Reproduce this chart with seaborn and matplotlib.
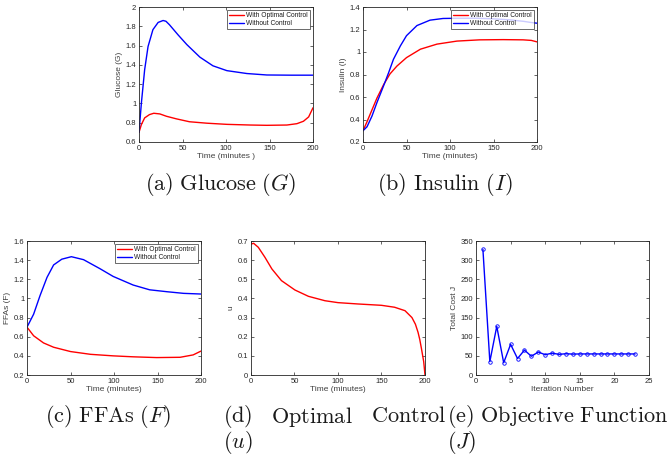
import numpy as np
import pandas as pd
import matplotlib
matplotlib.use("Agg")
import matplotlib.pyplot as plt
from matplotlib.ticker import FuncFormatter
import seaborn as sns

# ---- data ----
# Glucose
g_ctrl_t = [0, 2.7, 6.5, 12, 17, 24, 31.5, 43, 58, 78, 101, 128, 147, 170, 181.5, 189, 195, 200]
g_ctrl = [0.70, 0.78, 0.85, 0.884, 0.898, 0.891, 0.867, 0.84, 0.81, 0.795, 0.783, 0.776, 0.773, 0.776, 0.79, 0.815, 0.86, 0.955]
g_free_t = [0, 2.7, 6.5, 10.4, 16, 22, 27.7, 31, 35, 45, 55, 70, 85, 101, 124, 147, 175, 200]
g_free = [0.70, 1.0, 1.35, 1.59, 1.765, 1.84, 1.86, 1.852, 1.816, 1.71, 1.61, 1.48, 1.39, 1.34, 1.31, 1.295, 1.293, 1.293]

# Insulin
i_ctrl_t = [0, 4.6, 10.3, 16, 23.7, 31, 39, 50, 66, 85, 108, 134, 161, 184, 193.5, 200]
i_ctrl = [0.30, 0.38, 0.485, 0.59, 0.71, 0.805, 0.875, 0.95, 1.025, 1.07, 1.097, 1.108, 1.11, 1.108, 1.103, 1.09]
i_free_t = [0, 4.6, 10.3, 16, 23.7, 29.4, 35, 43, 50, 62, 77, 92, 108, 130, 150, 170, 185, 193.5, 200]
i_free = [0.30, 0.335, 0.43, 0.55, 0.70, 0.815, 0.935, 1.055, 1.145, 1.235, 1.283, 1.298, 1.30, 1.30, 1.295, 1.285, 1.272, 1.262, 1.256]

# FFAs
f_ctrl_t = [0, 7.6, 19, 30.6, 50, 73, 99, 122, 149, 176, 191, 200]
f_ctrl = [0.70, 0.61, 0.535, 0.49, 0.445, 0.416, 0.40, 0.39, 0.382, 0.385, 0.41, 0.45]
f_free_t = [0, 7.6, 15, 23, 30.6, 40, 51, 65, 84, 99, 122, 141, 161, 180, 200]
f_free = [0.70, 0.835, 1.03, 1.22, 1.35, 1.41, 1.436, 1.405, 1.31, 1.23, 1.14, 1.09, 1.07, 1.053, 1.046]

# Optimal control
u_t = [0, 3, 8.4, 16, 24, 35, 50.5, 66, 85, 100, 123, 150, 165, 177, 185, 189, 192, 194, 196, 198.5, 200]
u_val = [0.684, 0.688, 0.667, 0.615, 0.554, 0.493, 0.444, 0.411, 0.388, 0.378, 0.371, 0.364, 0.354, 0.336, 0.30, 0.265, 0.223, 0.185, 0.136, 0.07, 0.0]

# Objective function
iters = list(range(1, 24))
cost_j = [328, 35, 127, 32, 80, 43, 65, 49, 60, 53, 57, 54, 55.5, 54.6, 55, 55, 55, 55, 55, 55, 55, 55, 55]

labels = ["With Optimal Control", "Without Control"]
colors = {"With Optimal Control": "#ff0000", "Without Control": "#0000ff"}

sns.set_theme(style="ticks")
plt.rcParams["font.family"] = ["Liberation Sans", "DejaVu Sans"]
plt.rcParams["mathtext.fontset"] = "cm"

W, H = 671, 457
fig = plt.figure(figsize=(W / 100, H / 100), dpi=100)


def add_ax(l, t, r, b):
    return fig.add_axes([l / W, 1 - b / H, (r - l) / W, (b - t) / H])


fmt = FuncFormatter(lambda v, p: f"{v:g}")


def style(ax, xlim, ylim, xticks, yticks, xlabel, ylabel):
    ax.set_xlim(*xlim)
    ax.set_ylim(*ylim)
    ax.set_xticks(xticks)
    ax.set_yticks(yticks)
    ax.xaxis.set_major_formatter(fmt)
    ax.yaxis.set_major_formatter(fmt)
    ax.set_xlabel(xlabel, fontsize=6, color="0.25", labelpad=1)
    ax.set_ylabel(ylabel, fontsize=6, color="0.25", labelpad=2)
    ax.tick_params(direction="in", top=True, right=True, length=2.5, width=0.5,
                   labelsize=5.5, colors="0.15", pad=2)
    for s in ax.spines.values():
        s.set_linewidth(0.6)
        s.set_color("0.15")
        s.set_visible(True)


def two_series(ax, t1, y1, t2, y2):
    df = pd.concat([
        pd.DataFrame({"t": t1, "v": y1, "s": labels[0]}),
        pd.DataFrame({"t": t2, "v": y2, "s": labels[1]}),
    ])
    sns.lineplot(data=df, x="t", y="v", hue="s", hue_order=labels, palette=colors,
                 estimator=None, linewidth=1.0, ax=ax)
    leg = ax.legend(loc="upper right", fontsize=4.8, frameon=True, fancybox=False,
                    handlelength=2.2, borderpad=0.25, labelspacing=0.15,
                    handletextpad=0.4, borderaxespad=0.5)
    leg.get_frame().set_edgecolor("0.15")
    leg.get_frame().set_linewidth(0.6)
    for tx in leg.get_texts():
        tx.set_color("0.1")


# (a) Glucose
ax_a = add_ax(139, 7, 313, 142)
two_series(ax_a, g_ctrl_t, g_ctrl, g_free_t, g_free)
style(ax_a, (0, 200), (0.6, 2.0), [0, 50, 100, 150, 200], np.arange(0.6, 2.01, 0.2),
      "Time (minutes )", "Glucose (G)")

# (b) Insulin
ax_b = add_ax(363, 7, 537, 142)
two_series(ax_b, i_ctrl_t, i_ctrl, i_free_t, i_free)
style(ax_b, (0, 200), (0.2, 1.4), [0, 50, 100, 150, 200], np.arange(0.2, 1.41, 0.2),
      "Time (minutes)", "Insulin (I)")

# (c) FFAs
ax_c = add_ax(27, 241, 201, 375)
two_series(ax_c, f_ctrl_t, f_ctrl, f_free_t, f_free)
style(ax_c, (0, 200), (0.2, 1.6), [0, 50, 100, 150, 200], np.arange(0.2, 1.61, 0.2),
      "Time (minutes)", "FFAs (F)")

# (d) Optimal control
ax_d = add_ax(251, 241, 425, 375)
sns.lineplot(x=u_t, y=u_val, color="#ff0000", linewidth=1.0, estimator=None, ax=ax_d)
style(ax_d, (0, 200), (0, 0.7), [0, 50, 100, 150, 200], np.arange(0, 0.71, 0.1),
      "Time (minutes)", "u")

# (e) Objective function
ax_e = add_ax(476, 241, 649, 375)
sns.lineplot(x=iters, y=cost_j, color="#0000ff", linewidth=1.0, marker="o",
             markersize=2.5, markerfacecolor="none", markeredgecolor="#0000ff",
             markeredgewidth=0.6, estimator=None, ax=ax_e)
style(ax_e, (0, 25), (0, 350), [0, 5, 10, 15, 20, 25], np.arange(0, 351, 50),
      "Iteration Number", "Total Cost J")

# ---- captions ----
cap = dict(fontsize=16, color="0.1", va="center")


def ftext(x, y, s, ha="left"):
    fig.text(x / W, 1 - y / H, s, ha=ha, **cap)


ftext(221, 184, r"$\mathrm{(a)\ Glucose\ }(G)$", ha="center")
ftext(445, 184, r"$\mathrm{(b)\ Insulin\ }(I)$", ha="center")
ftext(108, 417, r"$\mathrm{(c)\ FFAs\ }(F)$", ha="center")
ftext(223, 417, r"$\mathrm{(d)}$")
ftext(312, 417, r"$\mathrm{Optimal}$", ha="center")
ftext(447, 417, r"$\mathrm{Control}$", ha="right")
ftext(223, 442, r"$(u)$")
ftext(447, 417, r"$\mathrm{(e)\ Objective\ Function}$")
ftext(447, 442, r"$(J)$")

fig.savefig("out.png", dpi=100)
